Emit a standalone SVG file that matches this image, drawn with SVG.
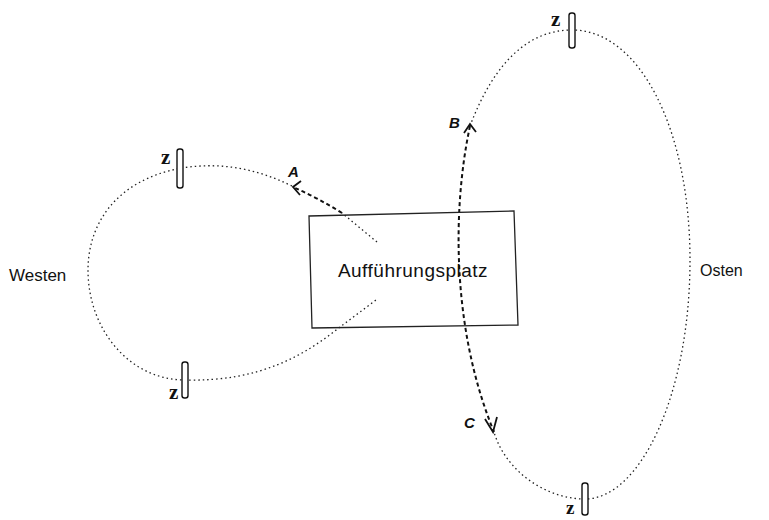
<svg xmlns="http://www.w3.org/2000/svg" width="769" height="520" viewBox="0 0 769 520">
<style>
.dot{fill:none;stroke:#222;stroke-width:1.3;stroke-dasharray:1.5 3}
.dash{fill:none;stroke:#111;stroke-width:2;stroke-dasharray:4 3}
.arr{fill:none;stroke:#111;stroke-width:1.8}
.zm{fill:#fff;stroke:#111;stroke-width:1.4}
.zl{font-family:"Liberation Serif",serif;font-weight:bold;font-size:21px;fill:#111}
.lt{font-family:"Liberation Sans",Arial,sans-serif;font-style:italic;font-weight:bold;font-size:15px;fill:#111}
.tx{font-family:"Liberation Sans",Arial,sans-serif;font-size:17px;fill:#111}
</style>
<rect width="769" height="520" fill="#fff"/>
<g id="connectors">
<path class="dot" d="M377,242 L342,213"/>
<path class="dash" d="M342,213 Q318,198 295,188"/>
<path class="dot" d="M292,186 C255,168 220,162 182,168 C115,180 88,225 88,270 C88,330 130,380 185,380 C260,382 305,355 340,327 L376,300"/>
<path class="dot" d="M470,126 C495,60 530,30 572,30 C640,30 690,130 690,260 C690,395 640,499 585,499 C545,499 505,470 494,432"/>
<path class="dash" d="M470,126 C452,210 452,330 494,432"/>
</g>
<g id="arrow-A"><path class="arr" d="M301,181 L293,187 L300,195"/><text class="lt" x="288" y="177">A</text></g>
<g id="arrow-B"><path class="arr" d="M464,133 L470,124 L476,132"/><text class="lt" x="449" y="128">B</text></g>
<g id="arrow-C"><path class="arr" d="M485,419 L493,432 L497,417"/><text class="lt" x="464" y="428">C</text></g>
<g id="buehne">
<polygon points="309,216 514,211 518,325 312,328" fill="none" stroke="#222" stroke-width="1.3"/>
<text class="tx" x="413" y="277" text-anchor="middle" style="font-size:19px;letter-spacing:0.5px">Aufführungsplatz</text>
</g>
<g id="z-west-oben"><rect class="zm" x="177" y="149" width="6" height="39" rx="2.5"/><text class="zl" x="161" y="164">z</text></g>
<g id="z-west-unten"><rect class="zm" x="182" y="362" width="6" height="36" rx="2.5"/><text class="zl" x="169" y="399">z</text></g>
<g id="z-ost-oben"><rect class="zm" x="569" y="13" width="6" height="35" rx="2.5"/><text class="zl" x="551" y="26">z</text></g>
<g id="z-ost-unten"><rect class="zm" x="582" y="483" width="6" height="32" rx="2.5"/><text class="zl" x="566" y="514" style="font-size:19px">z</text></g>
<g id="westen"><text class="tx" x="9" y="281">Westen</text></g>
<g id="osten"><text class="tx" x="700" y="276" style="font-size:16px">Osten</text></g>
</svg>
